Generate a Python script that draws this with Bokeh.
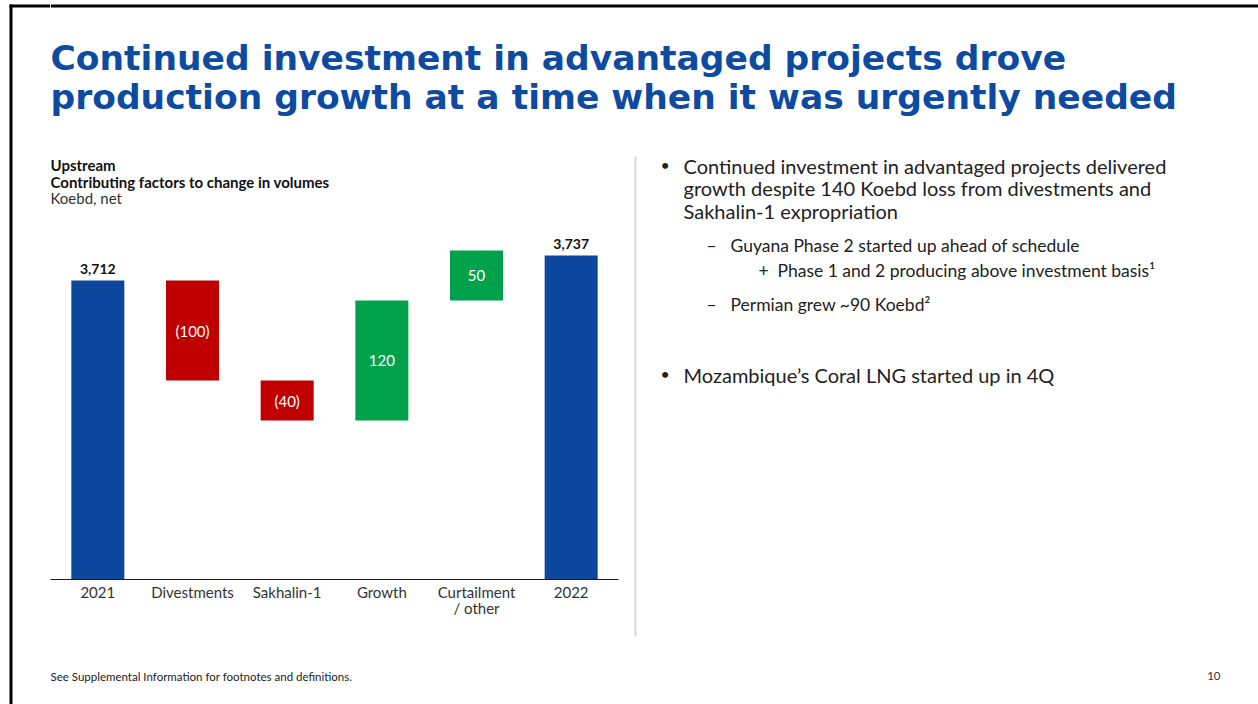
from bokeh.plotting import figure
from bokeh.models import ColumnDataSource, FactorRange, Range1d
from bokeh.layouts import row, column
from bokeh.core.properties import value
from bokeh.embed import file_html
from bokeh.resources import INLINE

# ---------------- data ----------------
categories = ["2021", "Divestments", "Sakhalin-1", "Growth", "Curtailment\n/ other", "2022"]
start_total = 3712
end_total = 3737
step_names = ["Divestments", "Sakhalin-1", "Growth", "Curtailment\n/ other"]
step_values = [-100, -40, 120, 50]

title_lines = ["Continued investment in advantaged projects drove",
               "production growth at a time when it was urgently needed"]
chart_heading = ["Upstream", "Contributing factors to change in volumes"]
chart_unit = "Koebd, net"
bullets_main = ["Continued investment in advantaged projects delivered",
                "growth despite 140 Koebd loss from divestments and",
                "Sakhalin-1 expropriation"]
sub1 = "Guyana Phase 2 started up ahead of schedule"
sub1a = "Phase 1 and 2 producing above investment basis\u00b9"
sub2 = "Permian grew ~90 Koebd\u00b2"
bullet2 = "Mozambique\u2019s Coral LNG started up in 4Q"
footnote = "See Supplemental Information for footnotes and definitions."
page_no = "10"

BLUE = "#0C479D"
RED = "#C00000"
GREEN = "#00A14B"
TITLE_BLUE = "#0D4BA0"
TXT = "#222222"

# ---------------- waterfall geometry from data ----------------
bottoms, tops, colors, mids, labels = [], [], [], [], []
run = start_total
for v in step_values:
    b, t = (run + v, run) if v < 0 else (run, run + v)
    bottoms.append(b); tops.append(t)
    colors.append(RED if v < 0 else GREEN)
    mids.append((b + t) / 2)
    labels.append(f"({abs(v)})" if v < 0 else f"{v}")
    run += v

float_src = ColumnDataSource(dict(x=step_names, bottom=bottoms, top=tops,
                                  color=colors, mid=mids, label=labels))
total_src = ColumnDataSource(dict(x=[categories[0], categories[-1]],
                                  top=[start_total, end_total],
                                  label=[f"{start_total:,}", f"{end_total:,}"]))


def canvas(w, h):
    f = figure(width=w, height=h, output_backend="svg", toolbar_location=None,
               x_range=Range1d(0, w), y_range=Range1d(h, 0),
               x_axis_location=None, y_axis_location=None,
               min_border=0, min_border_left=0, min_border_right=0,
               min_border_top=0, min_border_bottom=0)
    f.outline_line_color = None
    f.grid.visible = False
    f.background_fill_color = "white"
    f.border_fill_color = "white"
    return f


def txt(f, x, y, text, size, color=TXT, bold=False, font="Lato", align="left"):
    f.text(x=[x], y=[y], text=[text], text_font=value(font),
           text_font_size=f"{size}px",
           text_font_style="bold" if bold else "normal",
           text_color=color, text_align=align, text_baseline="alphabetic")


# ---------------- left border strip (x 0-50) ----------------
left_fig = canvas(50, 704)
left_fig.quad(left=[9], right=[12], top=[4], bottom=[704], fill_color="black", line_color=None)
left_fig.quad(left=[9], right=[50], top=[4], bottom=[7], fill_color="black", line_color=None)

# ---------------- title (x 50-1258, y 0-140) ----------------
top_fig = canvas(1208, 140)
top_fig.quad(left=[0], right=[1208], top=[4], bottom=[7], fill_color="black", line_color=None)
txt(top_fig, 0, 57, title_lines[0], 34.5, TITLE_BLUE, bold=True, font="DejaVu Sans")
txt(top_fig, 0, 96, title_lines[1], 34.5, TITLE_BLUE, bold=True, font="DejaVu Sans")

# ---------------- chart heading (x 50-630, y 140-230) ----------------
head_fig = canvas(580, 90)
txt(head_fig, 0, 24, chart_heading[0], 15, "#111111", bold=True)
txt(head_fig, 0, 41, chart_heading[1], 15, "#111111", bold=True)
txt(head_fig, 0, 57, chart_unit, 15, "#333333")

# ---------------- waterfall chart (x 50-630, y 230-640) ----------------
p = figure(width=580, height=410, output_backend="svg", toolbar_location=None,
           x_range=FactorRange(*categories, range_padding=0),
           y_range=Range1d(3413, 3762),
           y_axis_location=None, x_axis_location="below",
           min_border_left=0, min_border_right=12,
           min_border_top=0, min_border_bottom=61)
p.outline_line_color = None
p.grid.visible = False
p.background_fill_color = "white"
p.border_fill_color = "white"

p.vbar(x="x", top="top", bottom=3413, width=0.56, source=total_src,
       fill_color=BLUE, line_color=None)
p.vbar(x="x", top="top", bottom="bottom", width=0.56, source=float_src,
       fill_color="color", line_color=None)
p.text(x="x", y="mid", text="label", source=float_src, text_color="white",
       text_font=value("Lato"), text_font_size="15px",
       text_align="center", text_baseline="middle")
p.text(x="x", y="top", text="label", source=total_src, text_color="#111111",
       text_font=value("Lato"), text_font_size="14px", text_font_style="bold",
       text_align="center", text_baseline="bottom", y_offset=-7)

ax = p.xaxis[0]
ax.axis_line_color = "#1a1a1a"
ax.axis_line_width = 1.2
ax.major_tick_line_color = None
ax.minor_tick_line_color = None
ax.major_label_standoff = -3
ax.major_label_text_font = "Lato"
ax.major_label_text_font_size = "15px"
ax.major_label_text_line_height = 0.9
ax.major_label_text_color = "#333333"

# ---------------- right text panel (x 630-1258, y 140-640) ----------------
right_fig = canvas(628, 500)
right_fig.quad(left=[4], right=[6], top=[16], bottom=[496], fill_color="#D9D9D9", line_color=None)
for i, line in enumerate(bullets_main):
    txt(right_fig, 53, 25 + i * 22.5, line, 20)
txt(right_fig, 30, 24, "\u2022", 16)
txt(right_fig, 76, 105, "\u2013", 17.5)
txt(right_fig, 100, 105, sub1, 17.5)
txt(right_fig, 128, 130, "+", 17.5)
txt(right_fig, 147, 130, sub1a, 17.5)
txt(right_fig, 76, 164, "\u2013", 17.5)
txt(right_fig, 100, 164, sub2, 17.5)
txt(right_fig, 30, 233, "\u2022", 16)
txt(right_fig, 53, 234, bullet2, 20)

# ---------------- footer (x 50-1258, y 640-704) ----------------
foot_fig = canvas(1208, 64)
txt(foot_fig, 0, 35.5, footnote, 11.5, "#222222")
txt(foot_fig, 1170, 35.5, page_no, 11.5, "#333333", align="right")

layout = row(left_fig,
             column(top_fig,
                    row(column(head_fig, p, spacing=0), right_fig, spacing=0),
                    foot_fig, spacing=0),
             spacing=0)

open("out.html", "w").write(file_html(layout, INLINE))
